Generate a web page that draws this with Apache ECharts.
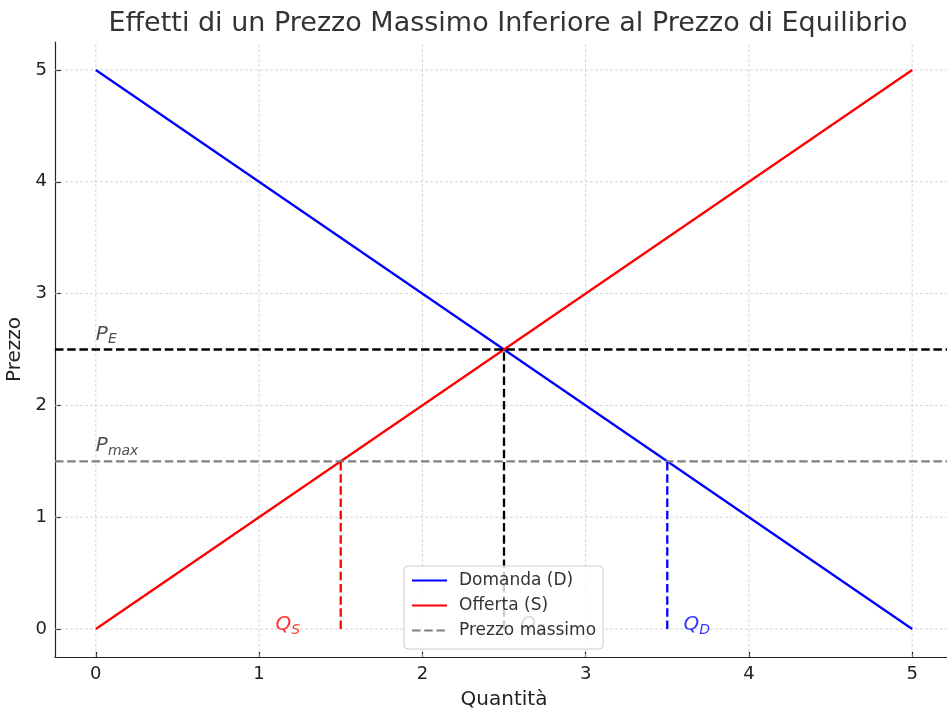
<!DOCTYPE html>
<html>
<head>
<meta charset="utf-8">
<script src="https://cdn.jsdelivr.net/npm/echarts@6/dist/echarts.min.js"></script>
<style>html,body{margin:0;padding:0;background:#fff}#c{width:947px;height:713px}</style>
</head>
<body>
<div id="c"></div>
<script>
// ---- data ----
const xTicks = [0, 1, 2, 3, 4, 5];
const yTicks = [0, 1, 2, 3, 4, 5];
const xRange = [-0.25, 5.25];
const yRange = [-0.25, 5.25];
const demandQ = [0, 5];
const demandP = [5, 0];
const supplyQ = [0, 5];
const supplyP = [0, 5];
const pEquilibrium = 2.5;
const qEquilibrium = 2.5;
const pMax = 1.5;
const qSupplied = 1.5;
const qDemanded = 3.5;
const labelText = ['P', 'P', 'Q', 'Q', 'Q'];
const labelSub = ['E', 'max', 'S', 'E', 'D'];
const labelX = [0, 0, 1.1, 2.6, 3.6];
const labelY = [2.6, 1.6, 0, 0, 0];
const labelColor = ['#222222', '#222222', '#ff0000', '#222222', '#0000ff'];

const FONT = 'DejaVu Sans';
const chart = echarts.init(document.getElementById('c'));

const series = [];
// grid lines
xTicks.forEach(v => series.push({
  type: 'line', silent: true, symbol: 'none', z: 1,
  data: [[v, yRange[0]], [v, yRange[1]]],
  lineStyle: { color: '#cccccc', width: 0.8, type: [3, 2] }
}));
yTicks.forEach(v => series.push({
  type: 'line', silent: true, symbol: 'none', z: 1,
  data: [[xRange[0], v], [xRange[1], v]],
  lineStyle: { color: '#cccccc', width: 0.8, type: [3, 2] }
}));

const LW = 2.3;
const dash = [8.5, 3.7];
series.push({
  name: 'Domanda (D)', type: 'line', symbol: 'none', z: 3,
  data: demandQ.map((q, i) => [q, demandP[i]]),
  lineStyle: { color: '#0000ff', width: LW }, itemStyle: { color: '#0000ff' }
});
series.push({
  name: 'Offerta (S)', type: 'line', symbol: 'none', z: 3,
  data: supplyQ.map((q, i) => [q, supplyP[i]]),
  lineStyle: { color: '#ff0000', width: LW }, itemStyle: { color: '#ff0000' }
});
series.push({
  name: 'Prezzo massimo', type: 'line', symbol: 'none', z: 3,
  data: [[xRange[0], pMax], [xRange[1], pMax]],
  lineStyle: { color: '#808080', width: LW, type: dash }, itemStyle: { color: '#808080' }
});
series.push({
  name: 'PE', type: 'line', symbol: 'none', z: 3,
  data: [[xRange[0], pEquilibrium], [xRange[1], pEquilibrium]],
  lineStyle: { color: '#000000', width: LW, type: dash }
});
series.push({
  name: 'QE', type: 'line', symbol: 'none', z: 3,
  data: [[qEquilibrium, 0], [qEquilibrium, pEquilibrium]],
  lineStyle: { color: '#000000', width: LW, type: dash }
});
series.push({
  name: 'QS', type: 'line', symbol: 'none', z: 3,
  data: [[qSupplied, 0], [qSupplied, pMax]],
  lineStyle: { color: '#ff0000', width: LW, type: dash }
});
series.push({
  name: 'QD', type: 'line', symbol: 'none', z: 3,
  data: [[qDemanded, 0], [qDemanded, pMax]],
  lineStyle: { color: '#0000ff', width: LW, type: dash }
});

// text labels
labelText.forEach((t, i) => {
  series.push({
    type: 'scatter', silent: true, symbolSize: 0, z: 4,
    data: [[labelX[i], labelY[i]]],
    label: {
      show: true, position: [0, 0], align: 'left', verticalAlign: 'top',
      offset: [0, -14],
      formatter: '{p|' + t + '}{s|' + labelSub[i] + '}',
      rich: {
        p: { fontFamily: FONT, fontStyle: 'italic', fontSize: 20, color: labelColor[i], lineHeight: 24, verticalAlign: 'top' },
        s: { fontFamily: FONT, fontStyle: 'italic', fontSize: 14, color: labelColor[i], lineHeight: 30 }
      }
    }
  });
});

chart.setOption({
  animation: false,
  backgroundColor: '#ffffff',
  title: {
    text: 'Effetti di un Prezzo Massimo Inferiore al Prezzo di Equilibrio',
    left: 503, top: 5, textAlign: 'center',
    textStyle: { fontFamily: FONT, fontSize: 27, fontWeight: 'normal', color: '#333333' }
  },
  grid: { left: 55, right: -6, top: 42, bottom: 56, containLabel: false, outerBoundsMode: 'none' },
  xAxis: {
    type: 'value', min: xRange[0], max: xRange[1],
    name: 'Quantità', nameLocation: 'middle', nameGap: 33,
    nameTextStyle: { fontFamily: FONT, fontSize: 20, color: '#222222' },
    axisLine: { show: true, onZero: false, lineStyle: { color: '#222222', width: 1.2 } },
    axisTick: { show: true, inside: true, length: 5, customValues: xTicks, lineStyle: { color: '#222222', width: 1.2 } },
    axisLabel: { customValues: xTicks, fontFamily: FONT, fontSize: 18, color: '#222222', margin: 8 },
    splitLine: { show: false }
  },
  yAxis: {
    type: 'value', min: yRange[0], max: yRange[1],
    name: 'Prezzo', nameLocation: 'middle', nameGap: 27, nameRotate: 90,
    nameTextStyle: { fontFamily: FONT, fontSize: 20, color: '#222222' },
    axisLine: { show: true, onZero: false, lineStyle: { color: '#222222', width: 1.2 } },
    axisTick: { show: true, inside: true, length: 6, customValues: yTicks, lineStyle: { color: '#222222', width: 1.2 } },
    axisLabel: { customValues: yTicks, fontFamily: FONT, fontSize: 18, color: '#222222', margin: 8 },
    splitLine: { show: false }
  },
  legend: {
    data: ['Domanda (D)', 'Offerta (S)', 'Prezzo massimo'],
    orient: 'vertical', left: 404, top: 566, z: 20,
    backgroundColor: 'rgba(255,255,255,0.8)', borderColor: '#cccccc', borderWidth: 1, borderRadius: 4,
    padding: [6, 7, 10, 7], itemGap: 8, itemWidth: 35, itemHeight: 14,
    itemStyle: { opacity: 0 },
    textStyle: { fontFamily: FONT, fontSize: 17, color: '#333333', padding: [0, 0, 0, 7] },
    selectedMode: false
  },
  series: series
});
</script>
</body>
</html>
